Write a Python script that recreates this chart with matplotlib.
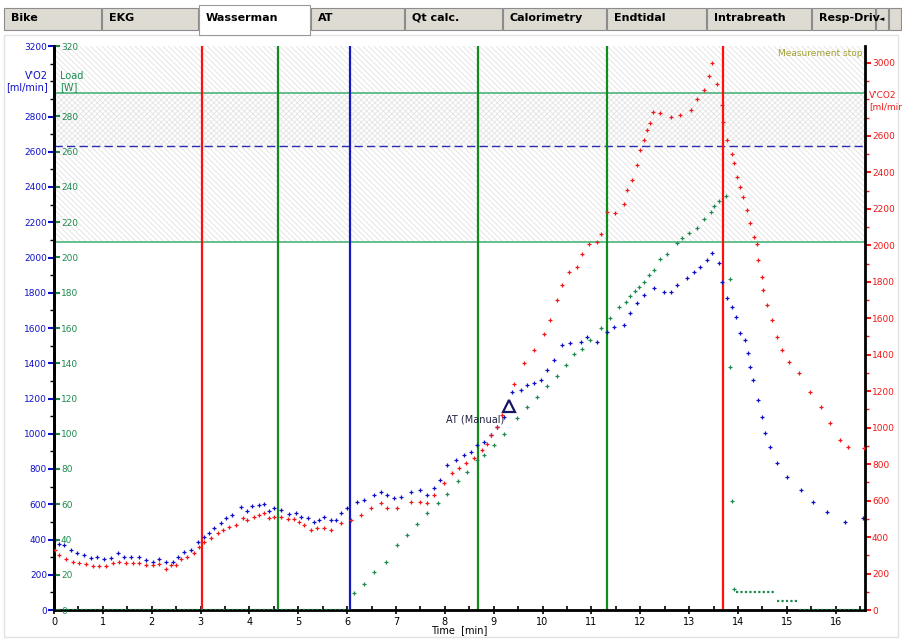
import matplotlib
matplotlib.use("Agg")
import matplotlib.pyplot as plt
from matplotlib.patches import Rectangle
from matplotlib.ticker import MultipleLocator

# V'O2 [ml/min] (left axis)
vo2_t = [0.03, 0.11, 0.21, 0.35, 0.48, 0.62, 0.76, 0.89, 1.03, 1.17,
         1.30, 1.44, 1.57, 1.74, 1.88, 2.02, 2.15, 2.29, 2.43, 2.53,
         2.66, 2.80, 2.94, 3.07, 3.18, 3.28, 3.42, 3.52, 3.65, 3.82,
         3.96, 4.06, 4.20, 4.30, 4.40, 4.50, 4.64, 4.81, 4.95, 5.05,
         5.19, 5.32, 5.43, 5.53, 5.66, 5.77, 5.87, 6.00, 6.21, 6.35,
         6.55, 6.69, 6.82, 6.96, 7.10, 7.30, 7.50, 7.64, 7.78, 7.91,
         8.05, 8.22, 8.39, 8.53, 8.66, 8.80, 8.94, 9.07, 9.21, 9.38,
         9.55, 9.69, 9.82, 9.96, 10.10, 10.23, 10.40, 10.57, 10.78, 10.91,
         11.12, 11.32, 11.46, 11.66, 11.80, 11.94, 12.07, 12.28, 12.48, 12.62,
         12.75, 12.96, 13.09, 13.23, 13.37, 13.47, 13.61, 13.67, 13.78, 13.88,
         13.95, 14.05, 14.15, 14.21, 14.25, 14.31, 14.40, 14.49, 14.56, 14.66,
         14.80, 15.00, 15.28, 15.54, 15.82, 16.20, 16.56]
vo2 = [400, 375, 369, 340, 322, 312, 293, 299, 289, 293,
       322, 302, 299, 299, 284, 274, 289, 274, 274, 302,
       331, 340, 388, 416, 435, 464, 492, 520, 539, 586,
       563, 590, 596, 601, 563, 577, 567, 545, 552, 526,
       520, 501, 511, 529, 511, 511, 549, 577, 615, 624,
       653, 671, 653, 634, 643, 671, 681, 653, 691, 738,
       823, 851, 879, 898, 936, 955, 993, 1040, 1097, 1239,
       1248, 1277, 1286, 1305, 1362, 1419, 1504, 1513, 1523, 1551,
       1523, 1579, 1608, 1617, 1683, 1740, 1787, 1825, 1806, 1806,
       1844, 1882, 1920, 1948, 1986, 2024, 1967, 1863, 1770, 1721,
       1664, 1572, 1532, 1458, 1380, 1305, 1192, 1097, 1003, 927,
       834, 756, 681, 614, 558, 501, 522]

# V'CO2 [ml/min] (right axis)
vco2_t = [0.03, 0.11, 0.25, 0.38, 0.52, 0.65, 0.79, 0.93, 1.06, 1.20,
          1.34, 1.47, 1.61, 1.74, 1.88, 2.02, 2.15, 2.29, 2.39, 2.49,
          2.60, 2.73, 2.87, 2.97, 3.07, 3.21, 3.35, 3.45, 3.59, 3.72,
          3.86, 3.96, 4.10, 4.20, 4.30, 4.40, 4.50, 4.64, 4.78, 4.91,
          5.02, 5.12, 5.26, 5.39, 5.53, 5.66, 5.87, 6.07, 6.28, 6.48,
          6.69, 6.82, 7.03, 7.30, 7.50, 7.64, 7.78, 7.98, 8.15, 8.29,
          8.43, 8.60, 8.77, 8.87, 8.94, 9.07, 9.18, 9.41, 9.62, 9.82,
          10.03, 10.16, 10.30, 10.40, 10.54, 10.71, 10.81, 10.95, 11.12, 11.19,
          11.32, 11.49, 11.66, 11.73, 11.83, 11.94, 12.00, 12.07, 12.14, 12.20,
          12.27, 12.41, 12.62, 12.82, 13.03, 13.16, 13.30, 13.40, 13.47, 13.57,
          13.67, 13.70, 13.78, 13.88, 13.91, 13.98, 14.05, 14.11, 14.18, 14.25,
          14.32, 14.39, 14.42, 14.49, 14.52, 14.59, 14.70, 14.80, 14.90, 15.04,
          15.24, 15.48, 15.69, 15.89, 16.09, 16.26, 16.57]
vco2 = [330, 301, 278, 265, 256, 252, 241, 243, 241, 256,
        265, 256, 259, 259, 247, 247, 252, 223, 247, 247,
        278, 292, 311, 347, 374, 393, 420, 438, 456, 466,
        502, 493, 511, 521, 530, 502, 511, 511, 497, 497,
        484, 466, 438, 448, 448, 438, 475, 493, 520, 557,
        585, 557, 557, 593, 593, 585, 630, 694, 749, 776,
        804, 831, 877, 913, 959, 1004, 1068, 1242, 1352, 1425,
        1516, 1589, 1698, 1781, 1854, 1881, 1954, 2009, 2018, 2064,
        2182, 2175, 2228, 2301, 2356, 2438, 2520, 2575, 2630, 2668,
        2730, 2723, 2703, 2712, 2740, 2805, 2849, 2931, 2999, 2886,
        2767, 2675, 2575, 2503, 2449, 2374, 2319, 2264, 2192, 2120,
        2045, 2009, 1918, 1826, 1753, 1671, 1589, 1497, 1425, 1360,
        1297, 1196, 1114, 1023, 931, 895, 886]

# Load [W]
load_t = [6.14, 6.35, 6.55, 6.79, 7.03, 7.23, 7.44, 7.64, 7.85, 8.05,
          8.26, 8.46, 8.66, 8.80, 9.00, 9.21, 9.48, 9.69, 9.89, 10.10,
          10.30, 10.47, 10.64, 10.81, 10.98, 11.19, 11.39, 11.56, 11.70, 11.80,
          11.90, 11.97, 12.07, 12.17, 12.28, 12.41, 12.55, 12.75, 12.86, 12.99,
          13.16, 13.30, 13.44, 13.50, 13.62, 13.76, 13.83, 13.84, 13.88, 13.91]
load = [9.5, 15, 21.7, 27, 37, 42.5, 49, 55, 60.5, 66,
        73, 78.5, 85, 88, 93.6, 100, 109, 115, 121, 127,
        133, 139, 145, 148, 153, 160, 165.5, 172, 175, 178,
        181, 183, 186, 190, 193, 199, 202, 208, 211, 214,
        217, 222, 226, 229, 232, 235, 188, 138, 62, 12]
# constant load stretches (start, end, W)
load_flat = [(0.0, 6.10, 0), (13.95, 14.77, 10), (14.80, 15.25, 5), (15.25, 16.6, 0)]

# event markers [min]
red_marks = [3.03, 13.70]
green_marks = [4.59, 8.68, 11.32]
blue_marks = [6.06]
at_manual = (9.31, 1157)

# tick labels (some left out where the axis titles sit)
vo2_ticks = [0, 200, 400, 600, 800, 1000, 1200, 1400, 1600, 1800, 2000,
             2200, 2400, 2600, 2800, 3200]
load_ticks = [0, 20, 40, 60, 80, 100, 120, 140, 160, 180, 200, 220, 240,
              260, 280, 320]
vco2_ticks = [0, 200, 400, 600, 800, 1000, 1200, 1400, 1600, 1800, 2000,
              2200, 2400, 2600, 3000]

tabs = ["Bike", "EKG", "Wasserman", "AT", "Qt calc.", "Calorimetry",
        "Endtidal", "Intrabreath", "Resp-Driv"]
tab_x = [4, 102, 199, 311, 405, 503, 607, 707, 812, 876]

BLUE = "#1010c8"
RED = "#f01818"
GREEN = "#1e8a50"

plt.rcParams["font.family"] = ["DejaVu Sans"]
plt.rcParams["hatch.linewidth"] = 0.6

W, H = 902, 641
fig = plt.figure(figsize=(W / 100, H / 100), dpi=100)

# background: tab strip and frame, in pixel coordinates
bg = fig.add_axes([0, 0, 1, 1], zorder=-5)
bg.set_xlim(0, W)
bg.set_ylim(H, 0)
bg.axis("off")
bg.add_patch(Rectangle((4, 35), 894, 602, facecolor="white", edgecolor="#e2e2e2", lw=1))
for i, name in enumerate(tabs):
    x0, x1 = tab_x[i], tab_x[i + 1]
    active = name == "Wasserman"
    if active:
        bg.add_patch(Rectangle((x0, 5), x1 - x0 - 1, 30, facecolor="white",
                               edgecolor="#9a9a9a", lw=0.8, zorder=3))
    else:
        bg.add_patch(Rectangle((x0, 8), x1 - x0 - 1, 22, facecolor="#dedbd3",
                               edgecolor="#8c8c8c", lw=0.8))
    bg.text(x0 + 7, 18, name, fontsize=8, fontweight="bold", va="center",
            ha="left", color="black", zorder=4)
bg.add_patch(Rectangle((876, 8), 12, 22, facecolor="#dedbd3", edgecolor="#8c8c8c", lw=0.8))
bg.add_patch(Rectangle((889, 8), 12, 22, facecolor="#dedbd3", edgecolor="#8c8c8c", lw=0.8))
bg.text(882, 19, "◄", fontsize=5, ha="center", va="center")

# main axes
left, right, top, bottom = 54, 865, 46, 610
ax = fig.add_axes([left / W, 1 - bottom / H, (right - left) / W, (bottom - top) / H])
ax.set_xlim(0, 16.6)
ax.set_ylim(0, 3200)

# hatched zones
ax.axhspan(2088, 3200, facecolor="none", edgecolor="#e2e2e2", hatch="\\" * 6, lw=0, zorder=0)
ax.axhspan(2633, 2933, facecolor="none", edgecolor="#e2e2e2", hatch="/" * 6, lw=0, zorder=0)
ax.axhline(2933, color="#4cb37a", lw=1.2, zorder=1)
ax.axhline(2088, color="#4cb37a", lw=1.2, zorder=1)
ax.axhline(2633, color="#2b2bb0", lw=1.0, ls=(0, (6, 3)), zorder=1)

for x in red_marks:
    ax.axvline(x, color="#ff1010", lw=1.6, zorder=2)
for x in green_marks:
    ax.axvline(x, color="#138a20", lw=1.6, zorder=2)
for x in blue_marks:
    ax.axvline(x, color="#1818c0", lw=1.6, zorder=2)

ax.plot(vo2_t, vo2, ls="none", marker="+", ms=3, mew=0.9, color=BLUE, zorder=4)
ax.plot(*at_manual, marker="^", ms=8, mfc="none", mec="#161660", mew=1.6, zorder=5)
ax.text(at_manual[0] - 0.68, at_manual[1] - 75, "AT (Manual)", fontsize=7,
        color="#202040", ha="center", va="center", zorder=5)
ax.text(16.55, 3160, "Measurement stop", fontsize=6.5, color="#a0a030",
        ha="right", va="center")

# load axis shares the left spine, labels inside
axl = ax.twinx()
axl.set_ylim(0, 320)
axl.spines["right"].set_position(("axes", 0))
axl.plot(load_t, load, ls="none", marker="+", ms=3, mew=0.9, color=GREEN, zorder=3)
for t0, t1, w in load_flat:
    axl.plot([t0, t1], [w, w], color=GREEN, lw=1.6, ls=(0, (1, 1)))

# V'CO2 axis on the right
axc = ax.twinx()
axc.set_ylim(0, 3093)
axc.plot(vco2_t, vco2, ls="none", marker="+", ms=3, mew=0.9, color=RED, zorder=3)

for a in (ax, axl, axc):
    a.spines["top"].set_visible(False)
    a.patch.set_visible(False)
ax.spines["right"].set_visible(False)
axl.spines["left"].set_visible(False)
axc.spines["left"].set_visible(False)
ax.spines["left"].set_linewidth(2)
ax.spines["bottom"].set_linewidth(2)
axl.spines["right"].set_linewidth(2)
axc.spines["right"].set_linewidth(2)

ax.xaxis.set_major_locator(MultipleLocator(1))
ax.xaxis.set_minor_locator(MultipleLocator(0.5))
ax.tick_params(axis="x", which="major", direction="inout", length=6, width=1.2,
               labelsize=7, pad=2)
ax.tick_params(axis="x", which="minor", direction="in", length=3, width=1.2)

ax.set_yticks(vo2_ticks)
ax.yaxis.set_minor_locator(MultipleLocator(100))
ax.tick_params(axis="y", which="major", length=4, width=1.5, color=BLUE,
               labelcolor=BLUE, labelsize=6.5, pad=1)
ax.tick_params(axis="y", which="minor", length=3, width=1, color="black")

axl.set_yticks(load_ticks)
axl.tick_params(axis="y", which="major", length=4, width=1.5, color=GREEN,
                labelcolor=GREEN, labelsize=6.5, pad=1)
axl.tick_params(axis="y", which="minor", length=0)

axc.set_yticks(vco2_ticks)
axc.yaxis.set_minor_locator(MultipleLocator(100))
axc.tick_params(axis="y", which="major", length=4, width=1.5, color=RED,
                labelcolor=RED, labelsize=6.5, pad=1)
axc.tick_params(axis="y", which="minor", length=3, width=1, color=RED)

ax.set_xlabel("Time  [min]", fontsize=7, labelpad=-1)

# axis titles
fig.text(48 / W, 1 - 76 / H, "V'O2", color=BLUE, fontsize=7, ha="right", va="center")
fig.text(48 / W, 1 - 87 / H, "[ml/min]", color=BLUE, fontsize=7, ha="right", va="center")
fig.text(60 / W, 1 - 76 / H, "Load", color=GREEN, fontsize=7, ha="left", va="center")
fig.text(60 / W, 1 - 87 / H, "[W]", color=GREEN, fontsize=7, ha="left", va="center")
fig.text(869 / W, 1 - 96 / H, "V'CO2", color=RED, fontsize=6.5, ha="left", va="center")
fig.text(869 / W, 1 - 107 / H, "[ml/min", color=RED, fontsize=6.5, ha="left", va="center")

fig.savefig("out.png", dpi=100)
